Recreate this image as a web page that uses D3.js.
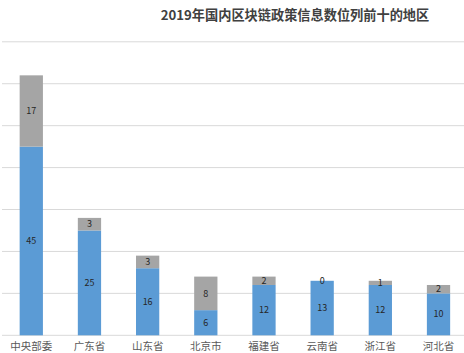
<!DOCTYPE html>
<html><head><meta charset="utf-8">
<script src="https://cdn.jsdelivr.net/npm/d3@7"></script>
<style>html,body{margin:0;padding:0;background:#fff;}svg{display:block;}</style>
</head><body>
<svg id="c" width="464" height="353"></svg>
<script>
const title = "2019年国内区块链政策信息数位列前十的地区";
const categories = ["中央部委","广东省","山东省","北京市","福建省","云南省","浙江省","河北省"];
const seriesA = [45,25,16,6,12,13,12,10];
const seriesB = [17,3,3,8,2,0,1,2];
const yTicks = [0,10,20,30,40,50,60,70];

const svg = d3.select("#c");
const font = "'Microsoft YaHei','Noto Sans CJK SC',sans-serif";
const x = d3.scaleBand().domain(categories).range([2.2, 467.6]).paddingInner(0.6).paddingOuter(0.3);
const y = d3.scaleLinear().domain([0,70]).range([335.3, 41.8]);

svg.append("g").selectAll("line").data(yTicks).join("line")
  .attr("x1", 2).attr("x2", 464)
  .attr("y1", d => y(d)).attr("y2", d => y(d))
  .attr("stroke", "#d9d9d9").attr("stroke-width", 1);

svg.append("text").attr("x", 295).attr("y", 20).attr("text-anchor","middle")
  .attr("font-family", font).attr("font-size", 13.2).attr("font-weight","bold")
  .attr("fill","#404040").text(title);

const data = categories.map((c,i)=>({c, a:seriesA[i], b:seriesB[i]}));
const g = svg.append("g");
g.selectAll("rect.a").data(data).join("rect").attr("class","a")
  .attr("x", d=>x(d.c)).attr("width", x.bandwidth())
  .attr("y", d=>y(d.a)).attr("height", d=>y(0)-y(d.a)).attr("fill","#5b9bd5");
g.selectAll("rect.b").data(data).join("rect").attr("class","b")
  .attr("x", d=>x(d.c)).attr("width", x.bandwidth())
  .attr("y", d=>y(d.a+d.b)).attr("height", d=>y(d.a)-y(d.a+d.b)).attr("fill","#a5a5a5");

g.selectAll("text.la").data(data).join("text").attr("class","la")
  .attr("x", d=>x(d.c)+x.bandwidth()/2).attr("y", d=>y(d.a/2)).attr("dy","0.35em")
  .attr("text-anchor","middle").attr("font-family",font).attr("font-size",9)
  .attr("fill","#262626").text(d=>d.a);
g.selectAll("text.lb").data(data).join("text").attr("class","lb")
  .attr("x", d=>x(d.c)+x.bandwidth()/2).attr("y", d=>y(d.a+d.b/2)).attr("dy","0.35em")
  .attr("text-anchor","middle").attr("font-family",font).attr("font-size",9)
  .attr("fill","#262626").text(d=>d.b);

const xAxis = d3.axisBottom(x).tickSize(0).tickPadding(7);
const ax = svg.append("g").attr("transform",`translate(0,${y(0)})`).call(xAxis);
ax.select(".domain").remove();
ax.selectAll("text").attr("font-family",font).attr("font-size",10.5).attr("fill","#595959");
</script>
</body></html>
